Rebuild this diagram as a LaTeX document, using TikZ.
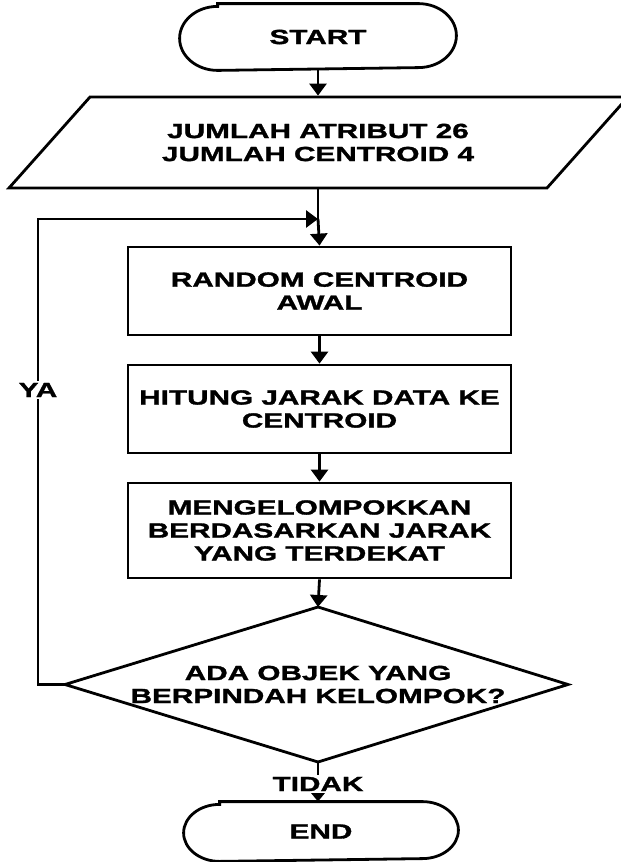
\documentclass[tikz,border=0pt]{standalone}
\usepackage{fontspec}
\newfontfamily\dfont[FakeStretch=1.45,FakeBold=1.5]{Liberation Sans Bold}
\usetikzlibrary{arrows.meta}
\begin{document}
\begin{tikzpicture}[x=1pt,y=-1pt, line width=2.8pt, line join=miter,
  every node/.style={font=\dfont\fontsize{20.5}{23}\selectfont, align=center, inner sep=0pt},
  proc/.style={draw, minimum width=383pt, minimum height=88pt},
  arr/.style={-{Triangle[length=12pt,width=17pt]}},
  arrs/.style={-{Triangle[length=9pt,width=14pt]}},
  lbl/.style={fill=white, inner sep=1.5pt}]
\useasboundingbox (0,0) rectangle (621,862);
% terminals (text nodes, outlines drawn with elliptic ends)
\node[minimum width=274pt, minimum height=64pt] (start) at (318,37) {START};
\draw ([xshift=38pt]start.north west) -- ([xshift=-38pt]start.north east)
  arc[start angle=90, end angle=-90, x radius=38pt, y radius=32pt]
  -- ([xshift=38pt]start.south west)
  arc[start angle=270, end angle=90, x radius=38pt, y radius=32pt] -- cycle;
\node[minimum width=272pt, minimum height=57pt] (end) at (321,831.5) {END};
\draw ([xshift=36pt]end.north west) -- ([xshift=-36pt]end.north east)
  arc[start angle=90, end angle=-90, x radius=36pt, y radius=28.5pt]
  -- ([xshift=36pt]end.south west)
  arc[start angle=270, end angle=90, x radius=36pt, y radius=28.5pt] -- cycle;
% input parallelogram
\coordinate (p1) at (90,97);
\coordinate (p2) at (628,97);
\coordinate (p3) at (547,188);
\coordinate (p4) at (9,188);
\draw (p1) -- (p2) -- (p3) -- (p4) -- cycle;
\node[minimum width=400pt, minimum height=91pt] (inp) at (318,142.5) {JUMLAH ATRIBUT 26\\JUMLAH CENTROID 4};
% processes
\node[proc] (box1) at (319.5,291) {RANDOM CENTROID\\AWAL};
\node[proc] (box2) at (319.5,409) {HITUNG JARAK DATA KE\\CENTROID};
\node[proc, minimum height=95pt] (box3) at (319.5,530.5) {MENGELOMPOKKAN\\BERDASARKAN JARAK\\YANG TERDEKAT};
% decision
\coordinate (dt) at (318,607);
\coordinate (dr) at (568,684.5);
\coordinate (db) at (318,762);
\coordinate (dl) at (65,684.5);
\draw (dt) -- (dr) -- (db) -- (dl) -- cycle;
\node (dec) at (318,684.5) {ADA OBJEK YANG\\BERPINDAH KELOMPOK?};
% connectors
\coordinate (join) at (318,219);
\coordinate (lc1) at (38,684.5);
\coordinate (lc2) at (38,219);
\draw[arr] (start.south) -- (inp.north);
\draw (inp.south) -- (join);
\draw[arr] (join) -- (box1.north);
\draw[arr] (box1.south) -- (box2.north);
\draw[arr] (box2.south) -- (box3.north);
\draw[arr] (box3.south) -- (dt);
\draw[arr] (dl) -- (lc1) -- (lc2) -- (join);
\draw[arrs] (db) -- (db |- end.north);
\node[lbl] (ya) at (38,390) {YA};
\node[lbl] (tidak) at (318,784) {TIDAK};
\end{tikzpicture}
\end{document}
